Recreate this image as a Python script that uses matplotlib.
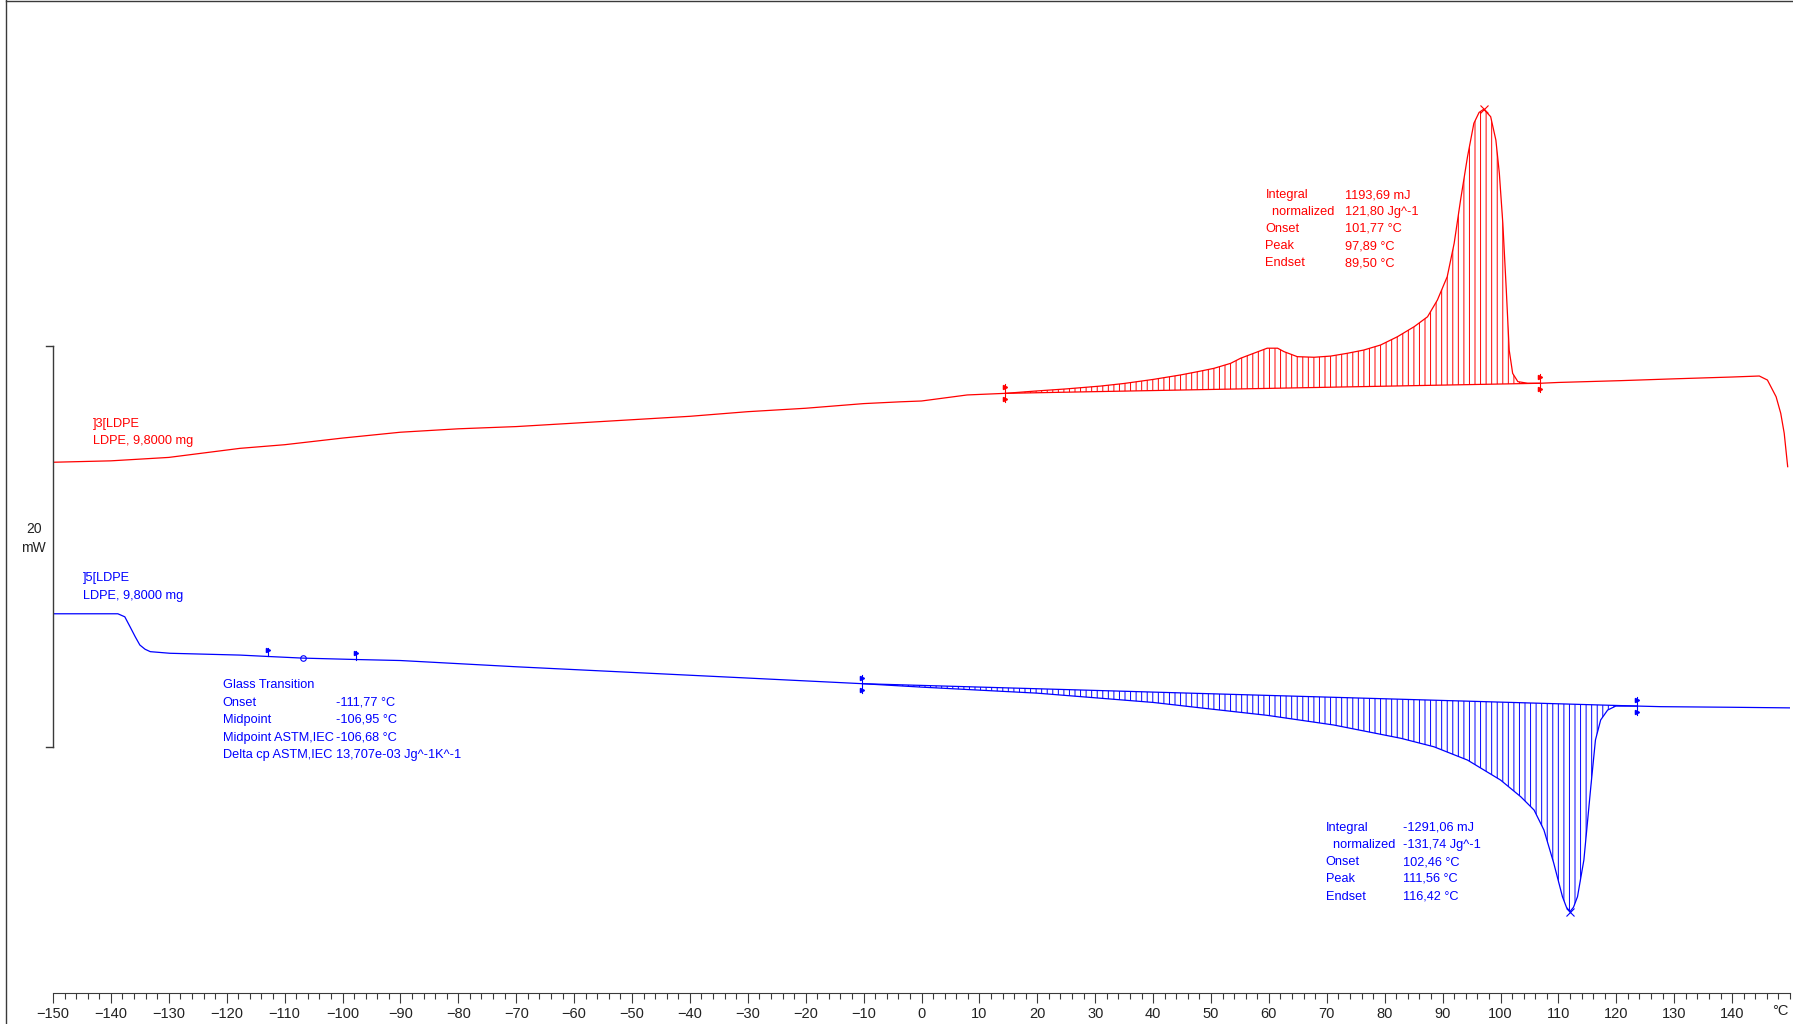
import numpy as np
import matplotlib.pyplot as plt
from matplotlib.lines import Line2D
from matplotlib.ticker import MultipleLocator

# DSC curves of LDPE, heat flow in mW (offset as plotted)
temp_heat = [-150, -140, -130, -117.7, -110, -100, -90, -80, -70, -60, -50, -40, -30, -20, -10,
             -3.6, 0, 7.9, 14.5, 20, 25, 30.9, 35, 40, 44.7, 47.6, 50.5, 53.4, 55.1, 57.4, 59.7,
             61.5, 62.6, 64.9, 67.8, 70.7, 73.6, 76.4, 79.3, 82.2, 85.1, 87.4, 89.1, 90.8, 92.0,
             93.1, 94.3, 95.4, 96.3, 97.1, 98.3, 99.2, 99.8, 100.4, 101.0, 101.5, 102.1, 103.0,
             104.7, 106.9, 110, 120.8, 130, 140, 144.7, 146.1, 147.6, 148.4, 149.0, 149.6]
flow_heat = [26.34, 26.41, 26.58, 27.03, 27.21, 27.54, 27.83, 28.00, 28.11, 28.28, 28.45, 28.62,
             28.85, 29.02, 29.25, 29.34, 29.38, 29.68, 29.76, 29.88, 29.98, 30.12, 30.25, 30.45,
             30.67, 30.83, 31.00, 31.25, 31.50, 31.75, 32.00, 32.00, 31.83, 31.58, 31.55, 31.61,
             31.75, 31.91, 32.16, 32.57, 33.07, 33.56, 34.39, 35.55, 37.21, 39.35, 41.50, 43.16,
             43.70, 43.86, 43.49, 42.33, 40.68, 38.20, 34.89, 31.91, 30.75, 30.34, 30.26, 30.26,
             30.30, 30.39, 30.48, 30.57, 30.62, 30.42, 29.59, 28.77, 27.78, 26.12]

temp_cool = [-150, -138.8, -137.6, -136.7, -135.8, -135.0, -134.1, -133.2, -129.8, -117.7, -112.8,
             -106.9, -97.6, -90, -70, -50, -30, -10.2, 0, 20, 40, 48.2, 59.7, 71.2, 82.8, 88.5,
             94.3, 100.0, 103.5, 105.8, 107.5, 109.2, 110.7, 111.4, 112.0, 112.6, 113.3, 114.4,
             115.6, 116.4, 117.3, 118.5, 119.9, 123.6, 127.7, 140, 150]
flow_cool = [18.82, 18.82, 18.67, 18.18, 17.68, 17.27, 17.06, 16.94, 16.86, 16.77, 16.70, 16.62,
             16.55, 16.50, 16.19, 15.91, 15.63, 15.35, 15.18, 14.88, 14.42, 14.15, 13.78, 13.30,
             12.64, 12.22, 11.56, 10.57, 9.74, 9.08, 8.09, 6.44, 4.78, 4.25, 4.04, 4.25, 4.78,
             6.60, 10.24, 12.56, 13.55, 14.04, 14.24, 14.24, 14.21, 14.18, 14.15]

# integration limits / baselines
heat_base_T = [14.5, 106.9]
heat_base_F = [29.76, 30.26]
cool_base_T = [-10.2, 123.6]
cool_base_F = [15.35, 14.24]
heat_peak = (97.1, 43.86)
cool_peak = (112.0, 4.04)
glass_T = [-112.8, -106.9, -97.6]

heat_labels = ["Integral", "  normalized", "Onset", "Peak", "Endset"]
heat_values = ["1193,69 mJ", "121,80 Jg^-1", "101,77 °C", "97,89 °C", "89,50 °C"]
cool_labels = ["Integral", "  normalized", "Onset", "Peak", "Endset"]
cool_values = ["-1291,06 mJ", "-131,74 Jg^-1", "102,46 °C", "111,56 °C", "116,42 °C"]
glass_labels = ["Glass Transition", "Onset", "Midpoint", "Midpoint ASTM,IEC", "Delta cp ASTM,IEC"]
glass_values = ["", "-111,77 °C", "-106,95 °C", "-106,68 °C", "13,707e-03 Jg^-1K^-1"]

RED = "#ff0000"
BLUE = "#0000ff"
GREY = "#3a3a3a"
TXT = ["Liberation Sans", "DejaVu Sans"]
FS = 9.2
plt.rcParams["hatch.linewidth"] = 0.7

W, H = 1793, 1024
fig = plt.figure(figsize=(W / 100, H / 100), dpi=100)
ax = fig.add_axes([53 / W, (H - 993) / H, 1737 / W, 993 / H])
ax.set_xlim(-150, 150)
ax.set_ylim(0, 993 / 20.15)

for s in ["top", "left", "right"]:
    ax.spines[s].set_visible(False)
ax.spines["bottom"].set_color(GREY)
ax.spines["bottom"].set_linewidth(0.8)
ax.set_yticks([])
ax.set_xticks(np.arange(-150, 150, 10))
ax.xaxis.set_minor_locator(MultipleLocator(2))
ax.tick_params(axis="x", which="major", direction="out", length=7, width=0.8, color=GREY,
               pad=3, labelsize=10.5, labelcolor="#222222")
ax.tick_params(axis="x", which="minor", direction="out", length=4, width=0.8, color=GREY)
for lab in ax.get_xticklabels():
    lab.set_family(["Liberation Sans Narrow", "Liberation Sans", "DejaVu Sans"])
ax.text(148.4, -0.0181, "°C", transform=ax.get_xaxis_transform(), ha="center", va="center",
        fontsize=10.5, color="#222222", family=["Liberation Sans Narrow", "Liberation Sans"],
        clip_on=False)


def hatch_area(T, F, base_T, base_F, color):
    T = np.asarray(T)
    F = np.asarray(F)
    m = (T >= base_T[0]) & (T <= base_T[1])
    x = T[m]
    b = np.interp(x, base_T, base_F)
    ax.fill_between(x, F[m], b, facecolor="none", edgecolor=color, hatch="|||", linewidth=0)
    ax.plot(base_T, base_F, color=color, lw=0.9)


def limit_mark(x, y, color):
    ax.plot([x, x], [y - 0.45, y + 0.45], color=color, lw=0.8)
    ax.plot([x, x], [y + 0.3, y - 0.3], ls="none", marker=">", ms=3, color=color)


ax.plot(temp_heat, flow_heat, color=RED, lw=0.9)
ax.plot(temp_cool, flow_cool, color=BLUE, lw=0.9)
hatch_area(temp_heat, flow_heat, heat_base_T, heat_base_F, RED)
hatch_area(temp_cool, flow_cool, cool_base_T, cool_base_F, BLUE)
for x, y in zip(heat_base_T, heat_base_F):
    limit_mark(x, y, RED)
for x, y in zip(cool_base_T, cool_base_F):
    limit_mark(x, y, BLUE)
ax.plot(*heat_peak, marker="x", ms=6, mew=0.8, color=RED)
ax.plot(*cool_peak, marker="x", ms=6, mew=0.8, color=BLUE)

g_flow = np.interp(glass_T, temp_cool, flow_cool)
for x, y in [(glass_T[0], g_flow[0]), (glass_T[2], g_flow[2])]:
    ax.plot([x, x], [y, y + 0.4], color=BLUE, lw=0.8)
    ax.plot(x, y + 0.3, marker=">", ms=3, color=BLUE)
ax.plot(glass_T[1], g_flow[1], marker="o", ms=4, mfc="none", mew=0.8, color=BLUE)

# 20 mW scale bar
ax.plot([-150, -150], [12.21, 32.11], color=GREY, lw=1, clip_on=False)
ax.plot([-151.2, -150], [12.21, 12.21], color=GREY, lw=1, clip_on=False)
ax.plot([-151.2, -150], [32.11, 32.11], color=GREY, lw=1, clip_on=False)
fig.text(34 / W, 1 - 529 / H, "20", ha="center", va="center", fontsize=10, color="#222222",
         family=TXT)
fig.text(33 / W, 1 - 548 / H, "mW", ha="center", va="center", fontsize=10, color="#222222",
         family=TXT)

# curve names
ax.text(-143.1, 28.24, "]3[LDPE", color=RED, fontsize=FS, va="center", family=TXT)
ax.text(-143.1, 27.39, "LDPE, 9,8000 mg", color=RED, fontsize=FS, va="center", family=TXT)
ax.text(-144.9, 20.61, "]5[LDPE", color=BLUE, fontsize=FS, va="center", family=TXT)
ax.text(-144.9, 19.72, "LDPE, 9,8000 mg", color=BLUE, fontsize=FS, va="center", family=TXT)


def result_block(x_lab, x_val, y_rows, labels, values, color):
    for y, l, v in zip(y_rows, labels, values):
        ax.text(x_lab, y, l, color=color, fontsize=FS, va="center", family=TXT)
        ax.text(x_val, y, v, color=color, fontsize=FS, va="center", family=TXT)


result_block(59.4, 73.1, [39.60, 38.77, 37.92, 37.07, 36.21], heat_labels, heat_values, RED)
result_block(69.8, 83.2, [8.20, 7.34, 6.49, 5.66, 4.78], cool_labels, cool_values, BLUE)
result_block(-120.7, -101.1, [15.29, 14.41, 13.55, 12.67, 11.81], glass_labels, glass_values, BLUE)

# window frame
fig.add_artist(Line2D([6 / W, 6 / W], [0, 1], transform=fig.transFigure, color=GREY, lw=1))
fig.add_artist(Line2D([6 / W, 1], [1 - 1 / H, 1 - 1 / H], transform=fig.transFigure,
                      color=GREY, lw=1))

fig.savefig("out.png", dpi=100)
